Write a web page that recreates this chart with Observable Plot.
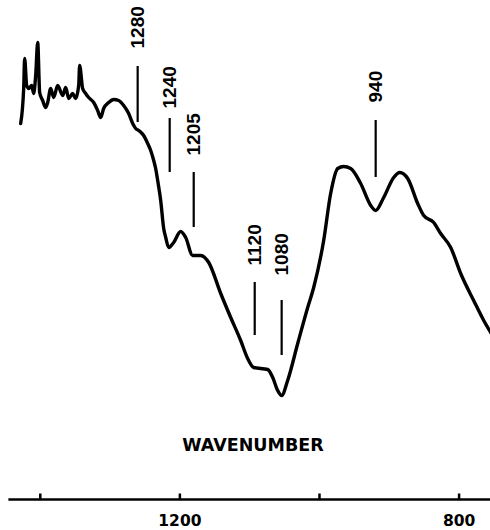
<!DOCTYPE html>
<html>
<head>
<meta charset="utf-8">
<script src="https://cdn.jsdelivr.net/npm/d3@7"></script>
<script src="https://cdn.jsdelivr.net/npm/@observablehq/plot@0.6"></script>
<style>
  html, body { margin: 0; padding: 0; background: #fff; }
  #chart svg { display: block; }
</style>
</head>
<body>
<div id="chart"></div>
<script>
// Spectrum (wavenumber, cm^-1) and relative transmittance
const wavenumber = [1428.1,1423.8,1422.4,1419.5,1416.6,1412.3,1409.5,1406.6,1403.7,1400.9,1396.6,1392.3,1389.4,1385.1,1380.8,1375.1,1367.9,1363.6,1359.3,1353.6,1349.3,1345.0,1343.6,1339.3,1335.0,1330.7,1323.5,1317.8,1313.5,1309.2,1302.0,1294.8,1287.7,1280.5,1273.4,1267.6,1263.3,1259.0,1251.9,1246.1,1241.8,1237.5,1234.7,1231.8,1227.5,1223.2,1220.3,1216.0,1208.9,1198.9,1191.7,1181.7,1170.2,1158.7,1141.5,1127.2,1112.9,1102.9,1094.3,1074.2,1067.0,1059.9,1054.2,1045.6,1031.2,1016.9,1008.3,994.0,984.0,973.9,965.3,955.3,941.0,926.6,919.5,908.0,893.7,885.1,873.6,859.3,850.7,836.4,826.4,812.0,797.7,779.1,764.7,754.7];
const transmittance = [75.2,82.2,88.2,82.8,82.2,82.8,81.2,84.8,91.4,81.4,79.8,78.4,79.4,82.2,80.4,82.8,80.8,82.4,80.2,81.2,80.2,82.8,86.8,82.2,81.2,80.4,79.4,77.8,76.4,78.2,79.4,80.0,79.8,78.8,77.2,75.2,74.2,73.8,72.8,71.2,69.8,67.8,66.2,63.8,59.8,54.2,52.4,50.4,51.4,53.6,52.4,48.8,48.8,47.4,41.2,36.4,31.8,28.2,26.4,26.0,24.4,21.8,20.8,23.8,31.2,38.4,42.4,51.8,61.2,66.2,66.6,66.2,63.2,58.8,57.8,60.4,64.4,65.4,64.2,59.2,56.8,55.4,53.2,50.4,45.2,39.8,35.8,33.4];

// Band annotations: label text, where the marker sits, marker extent, label base
const bandLabels = ["1280","1240","1205","1120","1080","940"];
const bandPos    = [1260.5, 1214.6, 1180.2, 1092.8, 1054.2, 919.5];
const bandLow    = [75.4, 65.4, 54.4, 32.8, 28.8, 64.4];
const bandHigh   = [86.6, 76.2, 65.4, 43.4, 39.8, 75.8];
const bandText   = [90.2, 78.2, 68.8, 46.8, 44.8, 79.4];

// Axis
const tickValues = [1400, 1200, 1000, 800];
const tickLabels = [1200, 800];
const axisTitle = "WAVENUMBER";

const spectrum = wavenumber.map((w, i) => ({w, t: transmittance[i]}));
const bands = bandLabels.map((label, i) => ({label, x: bandPos[i], y1: bandLow[i], y2: bandHigh[i], ty: bandText[i]}));

const chart = Plot.plot({
  width: 490,
  height: 530,
  marginLeft: 0,
  marginRight: 0,
  marginTop: 0,
  marginBottom: 31,
  x: {domain: [1457, 755], axis: null},
  y: {domain: [0, 99.8], axis: null},
  style: {background: "#fff"},
  marks: [
    // axis line and ticks
    Plot.ruleY([0], {x1: 1445, x2: 755, stroke: "#000", strokeWidth: 2.5}),
    Plot.ruleX(tickValues, {x: d => d, y1: 0, y2: 1.1, stroke: "#000", strokeWidth: 2.5}),
    Plot.text(tickLabels, {x: d => d, y: 0, dy: 21.5, text: d => String(d), fontFamily: "DejaVu Sans", fontWeight: "bold", fontSize: 15.5, fill: "#000", lineAnchor: "middle"}),
    Plot.text([axisTitle], {frameAnchor: "bottom", dx: 7.5, dy: -54, text: d => d, fontFamily: "DejaVu Sans", fontWeight: "bold", fontSize: 17.5, fill: "#000", lineAnchor: "middle"}),
    // band markers
    Plot.ruleX(bands, {x: "x", y1: "y1", y2: "y2", stroke: "#000", strokeWidth: 2.2}),
    Plot.text(bands, {x: "x", y: "ty", text: "label", rotate: -90, textAnchor: "start", lineAnchor: "middle", fontFamily: "Liberation Sans", fontWeight: "bold", fontSize: 19, fill: "#000"}),
    // spectrum
    Plot.line(spectrum, {x: "w", y: "t", stroke: "#000", strokeWidth: 3.4, curve: "monotone-x", strokeLinejoin: "round", strokeLinecap: "round"})
  ]
});
document.getElementById("chart").appendChild(chart);
</script>
</body>
</html>
